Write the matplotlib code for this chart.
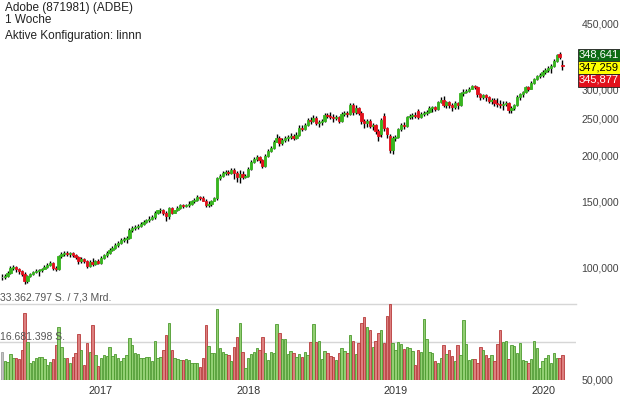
import pandas as pd
import numpy as np
import matplotlib
matplotlib.use("Agg")
import matplotlib.pyplot as plt
from matplotlib.patches import Rectangle
from matplotlib.ticker import NullLocator

plt.rcParams['font.family'] = ['Liberation Sans', 'DejaVu Sans']

# Weekly candles, first week begins 2016-05-02
start = "2016-05-02"

opens = [
    94.0, 94.0, 94.6, 96.4, 99.4, 100.0, 98.8, 97.6, 95.8, 91.8,
    94.6, 95.8, 97.0, 97.6, 98.2, 98.8, 100.0, 101.2, 102.5, 99.4,
    98.8, 107.0, 108.3, 109.0, 108.3, 109.0, 107.6, 106.3, 103.7, 105.0,
    103.7, 100.6, 103.1, 101.9, 103.7, 102.5, 105.7, 107.6, 109.0, 111.0,
    112.4, 114.4, 115.9, 118.0, 118.7, 119.5, 125.5, 127.1, 127.8, 128.6,
    130.2, 131.8, 133.4, 135.0, 135.9, 139.3, 141.9, 142.7, 139.3, 136.7,
    144.5, 140.1, 141.9, 144.5, 147.2, 146.3, 147.2, 148.1, 150.0, 151.8,
    154.6, 153.6, 150.8, 147.2, 148.1, 150.8, 153.6, 173.7, 175.8, 179.1,
    180.2, 179.1, 182.4, 179.1, 174.8, 178.0, 174.8, 175.8, 183.5, 191.6,
    195.2, 197.6, 194.0, 187.0, 198.8, 205.0, 208.8, 216.6, 222.0, 215.3,
    219.2, 222.0, 223.3, 224.7, 222.0, 226.1, 236.1, 234.6, 240.4, 247.9,
    246.4, 251.0, 243.4, 244.9, 246.4, 255.7, 254.1, 252.6, 251.0, 252.6,
    246.4, 257.3, 258.8, 257.3, 271.9, 260.4, 266.9, 258.8, 246.4, 243.4,
    246.4, 238.9, 240.4, 231.7, 227.5, 254.1, 236.1, 224.7, 206.3, 222.0,
    223.3, 234.6, 240.4, 238.9, 252.6, 254.1, 255.7, 262.0, 252.6, 257.3,
    258.8, 260.4, 266.9, 268.6, 265.3, 277.0, 280.4, 271.9, 277.0, 271.9,
    268.6, 275.3, 271.9, 292.7, 294.5, 298.1, 301.8, 307.4, 305.5, 290.9,
    285.6, 289.1, 285.6, 278.6, 280.4, 275.3, 273.6, 271.9, 273.6, 275.3,
    263.7, 266.9, 271.9, 285.6, 290.9, 294.5, 303.7, 301.8, 313.1, 320.9,
    326.8, 328.8, 334.9, 339.1, 343.3, 347.5, 358.3, 374.0, 349.7,
]

highs = [
    95.8, 95.8, 97.6, 100.6, 101.2, 100.6, 99.4, 98.2, 97.0, 95.2,
    96.4, 97.6, 98.8, 98.8, 99.4, 101.2, 102.5, 103.7, 103.1, 100.6,
    107.6, 109.6, 110.3, 110.3, 109.6, 109.6, 108.3, 107.0, 106.3, 105.7,
    104.4, 104.4, 105.7, 104.4, 105.0, 107.0, 108.3, 110.3, 112.4, 113.7,
    115.9, 117.3, 119.5, 120.2, 120.9, 127.1, 128.6, 129.4, 130.2, 131.8,
    133.4, 135.0, 136.7, 137.6, 141.0, 142.7, 144.5, 143.6, 141.0, 145.4,
    145.4, 142.7, 146.3, 148.1, 148.1, 148.1, 150.0, 151.8, 153.6, 156.5,
    155.5, 155.5, 152.7, 150.0, 151.8, 154.6, 174.8, 178.0, 181.3, 182.4,
    182.4, 184.7, 184.7, 181.3, 182.4, 181.3, 178.0, 185.8, 194.0, 197.6,
    200.0, 198.8, 195.2, 201.3, 207.5, 211.3, 219.2, 227.5, 224.7, 222.0,
    224.7, 226.1, 228.9, 227.5, 230.3, 240.4, 240.4, 243.4, 251.0, 252.6,
    255.7, 254.1, 247.9, 249.5, 258.8, 258.8, 260.4, 257.3, 255.7, 254.1,
    260.4, 262.0, 262.0, 275.3, 275.3, 271.9, 268.6, 262.0, 249.5, 249.5,
    249.5, 243.4, 241.9, 234.6, 251.0, 258.8, 237.5, 227.5, 224.7, 226.1,
    236.1, 243.4, 244.9, 254.1, 257.3, 258.8, 260.4, 265.3, 260.4, 262.0,
    263.7, 270.2, 270.2, 270.2, 278.6, 285.6, 287.3, 278.6, 278.6, 275.3,
    278.6, 277.0, 296.2, 300.0, 301.8, 305.5, 309.3, 309.3, 307.4, 292.7,
    290.9, 290.9, 287.3, 283.8, 283.8, 283.8, 280.4, 278.6, 278.6, 277.0,
    270.2, 273.6, 289.1, 292.7, 298.1, 307.4, 307.4, 317.0, 322.9, 328.8,
    332.9, 339.1, 343.3, 347.5, 351.8, 362.8, 374.0, 378.7, 360.5,
]

lows = [
    92.3, 92.9, 94.0, 95.8, 98.2, 97.0, 95.8, 94.6, 90.1, 90.6,
    94.0, 95.2, 96.4, 94.6, 97.0, 98.8, 99.4, 100.6, 98.2, 97.6,
    98.2, 105.7, 107.0, 107.0, 106.3, 106.3, 105.0, 101.9, 102.5, 102.5,
    99.4, 100.0, 100.6, 101.2, 101.9, 101.9, 105.0, 106.3, 108.3, 110.3,
    111.7, 113.0, 115.2, 116.6, 115.9, 118.7, 123.9, 125.5, 126.3, 127.8,
    129.4, 131.0, 131.8, 133.4, 135.0, 138.4, 140.1, 137.6, 132.6, 135.0,
    138.4, 139.3, 141.0, 143.6, 144.5, 145.4, 145.4, 147.2, 149.0, 150.8,
    151.8, 150.0, 145.4, 145.4, 146.3, 150.0, 151.8, 171.6, 174.8, 176.9,
    176.9, 178.0, 172.6, 169.5, 168.5, 172.6, 173.7, 174.8, 182.4, 190.4,
    192.8, 190.4, 184.7, 185.8, 197.6, 203.8, 207.5, 216.6, 211.3, 212.6,
    216.6, 217.9, 220.6, 219.2, 220.6, 224.7, 231.7, 233.2, 238.9, 241.9,
    244.9, 240.4, 237.5, 240.4, 244.9, 251.0, 249.5, 244.9, 247.9, 243.4,
    244.9, 254.1, 252.6, 255.7, 255.7, 257.3, 255.7, 241.9, 236.1, 237.5,
    236.1, 233.2, 227.5, 217.9, 223.3, 231.7, 222.0, 202.5, 201.3, 217.9,
    222.0, 231.7, 234.6, 237.5, 249.5, 249.5, 251.0, 249.5, 251.0, 254.1,
    255.7, 258.8, 260.4, 262.0, 263.7, 275.3, 268.6, 266.9, 266.9, 262.0,
    265.3, 265.3, 270.2, 287.3, 292.7, 296.2, 300.0, 300.0, 285.6, 280.4,
    282.1, 278.6, 275.3, 273.6, 270.2, 268.6, 266.9, 263.7, 270.2, 258.8,
    258.8, 263.7, 270.2, 280.4, 285.6, 292.7, 298.1, 300.0, 311.2, 318.9,
    322.9, 324.8, 330.9, 334.9, 332.9, 345.4, 356.1, 362.8, 339.1,
]

closes = [
    94.0, 94.6, 96.4, 99.4, 100.0, 98.8, 97.6, 95.8, 91.8, 94.6,
    95.8, 97.0, 97.6, 98.2, 98.8, 100.0, 101.2, 102.5, 99.4, 98.8,
    107.0, 108.3, 109.0, 108.3, 109.0, 107.6, 106.3, 103.7, 105.0, 103.7,
    100.6, 103.1, 101.9, 103.7, 102.5, 105.7, 107.6, 109.0, 111.0, 112.4,
    114.4, 115.9, 118.0, 118.7, 119.5, 125.5, 127.1, 127.8, 128.6, 130.2,
    131.8, 133.4, 135.0, 135.9, 139.3, 141.9, 142.7, 139.3, 136.7, 144.5,
    140.1, 141.9, 144.5, 147.2, 146.3, 147.2, 148.1, 150.0, 151.8, 154.6,
    153.6, 150.8, 147.2, 148.1, 150.8, 153.6, 173.7, 175.8, 179.1, 180.2,
    179.1, 182.4, 179.1, 174.8, 178.0, 174.8, 175.8, 183.5, 191.6, 195.2,
    197.6, 194.0, 187.0, 198.8, 205.0, 208.8, 216.6, 222.0, 215.3, 219.2,
    222.0, 223.3, 224.7, 222.0, 226.1, 236.1, 234.6, 240.4, 247.9, 246.4,
    251.0, 243.4, 244.9, 246.4, 255.7, 254.1, 252.6, 251.0, 252.6, 246.4,
    257.3, 258.8, 257.3, 271.9, 260.4, 266.9, 258.8, 246.4, 243.4, 246.4,
    238.9, 240.4, 231.7, 224.7, 247.9, 236.1, 227.5, 206.3, 222.0, 223.3,
    234.6, 240.4, 238.9, 252.6, 254.1, 255.7, 254.1, 252.6, 257.3, 258.8,
    260.4, 266.9, 268.6, 265.3, 277.0, 280.4, 271.9, 277.0, 271.9, 268.6,
    275.3, 271.9, 292.7, 294.5, 298.1, 301.8, 307.4, 303.7, 290.9, 285.6,
    289.1, 285.6, 278.6, 280.4, 275.3, 273.6, 271.9, 273.6, 275.3, 263.7,
    266.9, 271.9, 285.6, 290.9, 294.5, 303.7, 301.8, 313.1, 320.9, 326.8,
    328.8, 334.9, 339.1, 343.3, 347.5, 358.3, 371.8, 367.2, 347.26,
]

# weekly volume in million shares
volumes = [
    12.4, 8.3, 8.0, 11.4, 9.5, 9.5, 9.2, 13.2, 29.3, 16.8,
    7.3, 8.3, 9.5, 9.9, 9.9, 9.2, 6.6, 8.0, 9.2, 15.4,
    23.1, 14.6, 9.5, 9.5, 7.3, 9.9, 12.0, 20.0, 13.2, 6.6,
    16.1, 12.4, 24.1, 11.0, 6.1, 9.5, 11.0, 10.5, 14.6, 10.5,
    11.4, 9.5, 8.3, 9.5, 11.0, 18.6, 15.4, 11.7, 11.4, 9.5,
    9.5, 9.9, 10.2, 8.3, 17.1, 9.5, 9.9, 13.2, 19.8, 25.2,
    13.2, 9.5, 9.2, 8.8, 8.8, 9.2, 8.8, 7.6, 7.3, 7.3,
    5.6, 9.5, 24.1, 15.0, 12.0, 12.0, 31.0, 13.9, 12.4, 11.3,
    11.0, 8.5, 14.3, 19.0, 25.2, 12.4, 5.1, 9.5, 11.4, 12.4,
    13.9, 13.2, 19.0, 12.0, 8.8, 12.4, 12.0, 24.7, 20.5, 18.0,
    17.8, 11.4, 12.7, 12.0, 10.0, 11.3, 10.2, 12.4, 11.0, 16.8,
    24.7, 16.5, 17.1, 9.2, 12.7, 11.7, 10.5, 10.2, 8.8, 11.7,
    13.9, 12.7, 12.0, 19.8, 17.3, 11.4, 16.3, 24.9, 27.8, 23.1,
    22.0, 14.6, 17.1, 20.5, 22.0, 16.3, 28.1, 33.362797, 16.1, 13.2,
    16.8, 15.8, 13.5, 14.6, 13.9, 12.9, 6.6, 13.2, 12.4, 26.6,
    17.8, 12.4, 12.0, 8.5, 7.6, 9.8, 15.4, 11.3, 13.2, 10.5,
    8.5, 15.4, 11.0, 26.3, 15.7, 8.8, 9.2, 9.1, 7.6, 14.6,
    13.2, 11.0, 9.5, 11.0, 8.5, 15.8, 22.0, 16.5, 17.1, 9.2,
    15.4, 14.9, 12.0, 16.3, 8.8, 8.5, 7.6, 9.1, 17.1, 14.0,
    5.1, 8.5, 9.5, 11.0, 7.3, 11.7, 9.8, 9.8, 11.0,
]

years = [2017, 2018, 2019, 2020]
price_ticks = [50, 100, 150, 200, 250, 300, 450]
quotes = ["348,641", "347,259", "345,877"]

W, H = 620, 400


def rect(x0, y0, x1, y1):
    # pixel box (top-left origin) -> figure rect
    return [x0 / W, 1 - y1 / H, (x1 - x0) / W, (y1 - y0) / H]


o = np.array(opens)
h = np.array(highs)
l = np.array(lows)
c = np.array(closes)
v = np.array(volumes)
idx = np.arange(len(c))

up = c > o
down = c < o
body_col = np.where(up, '#37b51f', np.where(down, '#e2101c', '#9a9a9a'))
vol_fill = np.where(up, '#92cf73', np.where(down, '#dc7f7f', '#c4c4c4'))
vol_edge = np.where(up, '#4c9a2e', np.where(down, '#b83a3a', '#a0a0a0'))

fig = plt.figure(figsize=(W / 100, H / 100), dpi=100)
ax_vol = fig.add_axes(rect(0, 304, 576, 380))
ax = fig.add_axes(rect(0, 0, 576, 380))
ax.patch.set_alpha(0)

# volume panel
vmax = v.max()
ax_vol.bar(idx, v, width=0.85, color=vol_fill, edgecolor=vol_edge, linewidth=0.6)
ax_vol.axhline(vmax, color='#d6d6d6', lw=1, clip_on=False, zorder=0)
ax_vol.axhline(vmax / 2, color='#d6d6d6', lw=1, zorder=0)
ax_vol.hlines(0, -0.7, idx[-1] + 0.5, color='#d6d6d6', lw=1, zorder=0)
ax_vol.set_ylim(0, vmax)
ax_vol.set_xlim(-0.7, 202.8)
ax_vol.axis('off')

full = f"{vmax * 1e6:,.0f}".replace(",", ".")
half = f"{int(vmax * 1e6 / 2):,}".replace(",", ".")
fig.text(0, 1 - 297 / H, f"{full} S. / 7,3 Mrd.", fontsize=7.5, color='#555555', va='center')
fig.text(0, 1 - 337 / H, f"{half} S.", fontsize=7.5, color='#555555', va='center')

# candles
ax.vlines(idx, l, h, color='black', lw=1.0, zorder=2)
ax.bar(idx, np.abs(c - o), bottom=np.minimum(o, c), width=0.82,
       color=body_col, edgecolor=body_col, linewidth=0.6, zorder=3)

ax.set_yscale('log')
ax.set_ylim(49.7, 521.9)
ax.set_xlim(-0.7, 202.8)
ax.yaxis.tick_right()
ax.yaxis.set_minor_locator(NullLocator())
ax.set_yticks(price_ticks)
ax.set_yticklabels([f"{t:.3f}".replace(".", ",") for t in price_ticks])
ax.tick_params(axis='y', length=0, pad=4, labelsize=7.6, labelcolor='#444444')

t0 = pd.Timestamp(start)
xpos = [(pd.Timestamp(f"{y}-01-01") - t0).days / 7 for y in years]
ax.set_xticks(xpos)
ax.set_xticklabels([str(y) for y in years])
ax.tick_params(axis='x', length=0, pad=4, labelsize=7.8, labelcolor='#333333')
for s in ax.spines.values():
    s.set_visible(False)

# quote boxes on the price scale
box_rows = [(48.5, 61, '#0d6b12', 'white'),
            (61, 73.5, '#ffff00', 'black'),
            (73.5, 86.5, '#e2101c', 'white')]
for txt, (y0, y1, fc, tc) in zip(quotes, box_rows):
    r = rect(578, y0, 620, y1)
    fig.add_artist(Rectangle((r[0], r[1]), r[2], r[3], transform=fig.transFigure,
                             facecolor=fc, edgecolor='#222222', lw=0.6, zorder=10))
    fig.text(599 / W, 1 - (y0 + y1) / 2 / H, txt, ha='center', va='center',
             fontsize=8, color=tc, zorder=11)

# header
fig.text(5 / W, 1 - 2 / H, "Adobe (871981) (ADBE)\n1 Woche", fontsize=8.5,
         color='#222222', va='top', linespacing=0.95)
fig.text(5 / W, 1 - 36 / H, "Aktive Konfiguration: linnn", fontsize=8.5, color='#222222', va='center')

fig.savefig("out.png", dpi=100)
